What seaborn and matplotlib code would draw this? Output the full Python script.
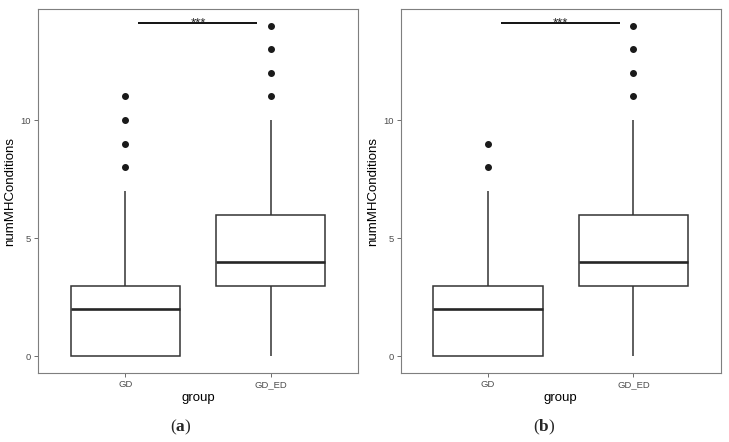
import matplotlib
matplotlib.use("Agg")
import matplotlib.pyplot as plt
import seaborn as sns
import pandas as pd

# ---- data (values chosen to reproduce the box statistics) ----
groups = ["GD", "GD_ED"]
gd_a = [0, 0, 0, 0, 0, 0, 1, 1, 2, 2, 2, 2, 3, 3, 3, 3, 7, 8, 9, 10, 11]
gd_ed_a = [0, 1, 2, 3, 3, 3, 3, 3, 4, 4, 4, 4, 4, 5, 5, 6, 6, 6, 6, 8, 10, 11, 12, 13, 14]
gd_b = [0, 0, 0, 0, 0, 0, 1, 1, 2, 2, 2, 2, 3, 3, 3, 3, 4, 5, 7, 8, 9]
gd_ed_b = [0, 1, 2, 3, 3, 3, 3, 3, 4, 4, 4, 4, 4, 5, 5, 6, 6, 6, 6, 8, 10, 11, 12, 13, 14]
y_ticks = [0, 5, 10]
sig_label = "***"
sig_y = 14.1
captions = ["a", "b"]

sns.set_style("white")
plt.rcParams["font.family"] = ["Liberation Sans", "DejaVu Sans"]
plt.rcParams["mathtext.fontset"] = "custom"
plt.rcParams["mathtext.rm"] = "Liberation Serif"
plt.rcParams["mathtext.bf"] = "Liberation Serif:bold"

fig = plt.figure(figsize=(7.29, 4.42), dpi=100)
ax_a = fig.add_axes([38 / 729, 1 - 373 / 442, 320 / 729, 364 / 442])
ax_b = fig.add_axes([400.7 / 729, 1 - 373 / 442, 320 / 729, 364 / 442])

panels = [(ax_a, gd_a, gd_ed_a, captions[0], 181 / 729),
          (ax_b, gd_b, gd_ed_b, captions[1], 544 / 729)]

for ax, g1, g2, cap, cap_x in panels:
    df = pd.DataFrame({
        "group": [groups[0]] * len(g1) + [groups[1]] * len(g2),
        "numMHConditions": g1 + g2,
    })
    sns.boxplot(data=df, x="group", y="numMHConditions", order=groups, ax=ax,
                width=0.75, color="white", linecolor="#333333", linewidth=1.1,
                showcaps=False,
                medianprops=dict(linewidth=1.9, color="#262626"),
                flierprops=dict(marker="o", markerfacecolor="#1a1a1a",
                                markeredgecolor="#1a1a1a", markersize=4))
    ax.set_xlim(-0.6, 1.6)
    ax.set_ylim(-0.7, 14.7)
    ax.set_yticks(y_ticks)
    ax.set_yticklabels([str(t) for t in y_ticks])
    ax.tick_params(axis="both", which="both", length=3, width=0.6, color="#555555",
                   labelsize=6.8, labelcolor="#4d4d4d", pad=2, direction="out",
                   bottom=True, left=True)
    for s in ax.spines.values():
        s.set_color("#7f7f7f")
        s.set_linewidth(0.8)
    ax.set_xlabel("group", fontsize=9.5, color="black", labelpad=2)
    ax.set_ylabel("numMHConditions", fontsize=9.5, color="black", labelpad=3)
    ax.grid(False)
    # significance bracket
    ax.plot([0.09, 0.905], [sig_y, sig_y], color="black", linewidth=1.3,
            solid_capstyle="butt")
    ax.text(0.5, sig_y - 0.25, sig_label, ha="center", va="bottom", fontsize=9.5,
            color="#222222")
    # caption
    fig.text(cap_x, 1 - 427 / 442, "($\\mathbf{" + cap + "}$)", ha="center",
             va="center", fontsize=12.5, family=["Liberation Serif", "DejaVu Serif"])

fig.savefig("out.png", dpi=100)
